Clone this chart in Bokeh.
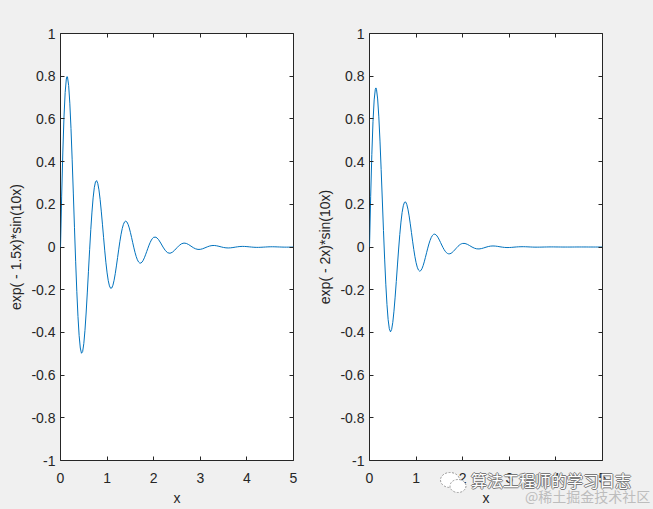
from bokeh.plotting import figure
from bokeh.models import LinearAxis, FixedTicker, Range1d, Div
from bokeh.layouts import row
from bokeh.embed import file_html
from bokeh.resources import INLINE

# ---- data ----
x_values = [
    0.000, 0.025, 0.050, 0.075, 0.100, 0.125, 0.1375, 0.150, 0.175, 0.200, 0.225,
    0.250, 0.275, 0.300, 0.325, 0.350, 0.375, 0.400, 0.425, 0.450, 0.475,
    0.500, 0.525, 0.550, 0.575, 0.600, 0.625, 0.650, 0.675, 0.700, 0.725,
    0.750, 0.775, 0.800, 0.825, 0.850, 0.875, 0.900, 0.925, 0.950, 0.975,
    1.000, 1.025, 1.050, 1.075, 1.100, 1.125, 1.150, 1.175, 1.200, 1.225,
    1.250, 1.275, 1.300, 1.325, 1.350, 1.375, 1.400, 1.425, 1.450, 1.475,
    1.500, 1.525, 1.550, 1.575, 1.600, 1.625, 1.650, 1.675, 1.700, 1.725,
    1.750, 1.775, 1.800, 1.825, 1.850, 1.875, 1.900, 1.925, 1.950, 1.975,
    2.000, 2.05, 2.10, 2.15, 2.20, 2.25, 2.30, 2.35, 2.40, 2.45, 2.50,
    2.55, 2.60, 2.65, 2.70, 2.75, 2.80, 2.85, 2.90, 2.95, 3.00,
    3.05, 3.10, 3.15, 3.20, 3.25, 3.30, 3.35, 3.40, 3.45, 3.50,
    3.55, 3.60, 3.65, 3.70, 3.75, 3.80, 3.85, 3.90, 3.95, 4.00,
    4.05, 4.10, 4.15, 4.20, 4.25, 4.30, 4.35, 4.40, 4.45, 4.50,
    4.55, 4.60, 4.65, 4.70, 4.75, 4.80, 4.85, 4.90, 4.95, 5.00,
]

y_left = [
    0.0, 0.2383, 0.4448, 0.6091, 0.7243, 0.7867, 0.7981, 0.7965, 0.7568, 0.6736, 0.5552,
    0.4113, 0.2527, 0.0900, -0.0665, -0.2075, -0.3257, -0.4153, -0.4731, -0.4977, -0.4901,
    -0.4530, -0.3908, -0.3092, -0.2153, -0.1136, -0.0130, 0.0811, 0.1635, 0.2299, 0.2774,
    0.3045, 0.3110, 0.2980, 0.2677, 0.2231, 0.1681, 0.1068, 0.0434, -0.0181, -0.0740,
    -0.1214, -0.1579, -0.1821, -0.1934, -0.1920, -0.1790, -0.1560, -0.1251, -0.0887, -0.0495,
    -0.0102, 0.0270, 0.0598, 0.0866, 0.1061, 0.1177, 0.1213, 0.1172, 0.1062, 0.0895,
    0.0685, 0.0449, 0.0202, -0.0040, -0.0261, -0.0451, -0.0599, -0.0700, -0.0751, -0.0752,
    -0.0707, -0.0622, -0.0505, -0.0365, -0.0214, -0.0060, 0.0087, 0.0217, 0.0325, 0.0405,
    0.0455, 0.0460, 0.0359, 0.0188, -0.0003, -0.0167, -0.0269, -0.0294, -0.0247, -0.0150, -0.0031,
    0.0078, 0.0154, 0.0184, 0.0167, 0.0113, 0.0041, -0.0031, -0.0086, -0.0113, -0.0110,
    -0.0082, -0.0039, 0.0007, 0.0045, 0.0067, 0.0071, 0.0057, 0.0032, 0.0003, -0.0022,
    -0.0039, -0.0045, -0.0039, -0.0025, -0.0007, 0.0010, 0.0022, 0.0028, 0.0026, 0.0018,
    0.0008, -0.0003, -0.0012, -0.0017, -0.0017, -0.0013, -0.0007, 0.0000, 0.0006, 0.0010,
    0.0011, 0.0009, 0.0005, 0.0001, -0.0003, -0.0006, -0.0007, -0.0006, -0.0004, -0.0001,
]

y_right = [
    0.0, 0.2353, 0.4338, 0.5867, 0.6889, 0.7391, 0.7451, 0.7390, 0.6934, 0.6095, 0.4961,
    0.3630, 0.2202, 0.0774, -0.0565, -0.1742, -0.2700, -0.3401, -0.3825, -0.3974, -0.3865,
    -0.3528, -0.3006, -0.2349, -0.1615, -0.0842, -0.0095, 0.0586, 0.1167, 0.1620, 0.1931,
    0.2093, 0.2111, 0.1998, 0.1772, 0.1459, 0.1086, 0.0681, 0.0273, -0.0113, -0.0455,
    -0.0736, -0.0946, -0.1077, -0.1130, -0.1108, -0.1020, -0.0878, -0.0695, -0.0487, -0.0268,
    -0.0054, 0.0143, 0.0312, 0.0446, 0.0540, 0.0592, 0.0602, 0.0575, 0.0514, 0.0428,
    0.0324, 0.0209, 0.0093, -0.0018, -0.0117, -0.0200, -0.0263, -0.0303, -0.0321, -0.0317,
    -0.0295, -0.0256, -0.0205, -0.0147, -0.0085, -0.0023, 0.0034, 0.0083, 0.0123, 0.0151,
    0.0167, 0.0165, 0.0125, 0.0064, -0.0001, -0.0054, -0.0085, -0.0091, -0.0075, -0.0044, -0.0009,
    0.0022, 0.0042, 0.0049, 0.0043, 0.0029, 0.0010, -0.0007, -0.0020, -0.0026, -0.0024,
    -0.0018, -0.0008, 0.0002, 0.0009, 0.0013, 0.0014, 0.0011, 0.0006, 0.0001, -0.0004,
    -0.0007, -0.0007, -0.0006, -0.0004, -0.0001, 0.0001, 0.0003, 0.0004, 0.0004, 0.0002,
    0.0001, 0.0000, -0.0002, -0.0002, -0.0002, -0.0002, -0.0001, 0.0000, 0.0001, 0.0001,
    0.0001, 0.0001, 0.0001, 0.0000, 0.0000, -0.0001, -0.0001, -0.0001, 0.0000, 0.0000,
]

x_ticks = [0, 1, 2, 3, 4, 5]
x_tick_labels = ["0", "1", "2", "3", "4", "5"]
y_ticks = [-1, -0.8, -0.6, -0.4, -0.2, 0, 0.2, 0.4, 0.6, 0.8, 1]
y_tick_labels = ["-1", "-0.8", "-0.6", "-0.4", "-0.2", "0", "0.2", "0.4", "0.6", "0.8", "1"]
x_label = "x"
y_label_left = "exp( - 1.5x)*sin(10x)"
y_label_right = "exp( - 2x)*sin(10x)"
watermark_title = "算法工程师的学习日志"
watermark_sub = "@稀土掘金技术社区"

# ---- style ----
BG = "#F0F0F0"
AX = "#262626"
LINE = "#0072BD"
FONT = "Liberation Sans"
FS = "14px"
CJK = "Noto Sans CJK SC"


def style_axis(ax, ticks, labels, standoff):
    ax.ticker = FixedTicker(ticks=ticks, minor_ticks=[])
    ax.major_label_overrides = dict(zip(ticks, labels))
    ax.major_tick_in = 4
    ax.major_tick_out = 0
    ax.major_tick_line_color = AX
    ax.minor_tick_line_color = None
    ax.axis_line_color = None
    ax.major_label_text_font = FONT
    ax.major_label_text_font_size = FS
    ax.major_label_text_color = AX
    ax.major_label_standoff = standoff
    ax.axis_label_text_font = FONT
    ax.axis_label_text_font_size = FS
    ax.axis_label_text_font_style = "normal"
    ax.axis_label_text_color = AX


def blank_axis(ticks):
    return LinearAxis(
        ticker=FixedTicker(ticks=ticks, minor_ticks=[]),
        major_label_overrides={t: "" for t in ticks},
        major_tick_in=4, major_tick_out=0, major_tick_line_color=AX,
        minor_tick_line_color=None, axis_line_color=None,
        major_label_text_font_size="1px", major_label_standoff=0,
    )


def make_panel(y, ylabel, width, left, right):
    p = figure(
        width=width, height=509,
        x_range=Range1d(0, 5), y_range=Range1d(-1, 1),
        output_backend="svg", toolbar_location=None,
        min_border_left=left, min_border_right=right,
        min_border_top=33, min_border_bottom=49,
        background_fill_color="white", border_fill_color=BG,
        outline_line_color=AX, outline_line_width=1,
    )
    p.grid.visible = False
    p.line(x_values, y, line_color=LINE, line_width=1)
    style_axis(p.xaxis[0], x_ticks, x_tick_labels, 12)
    style_axis(p.yaxis[0], y_ticks, y_tick_labels, 5)
    p.xaxis[0].axis_label = x_label
    p.xaxis[0].axis_label_standoff = 4
    p.yaxis[0].axis_label = ylabel
    p.yaxis[0].axis_label_standoff = 4
    p.add_layout(blank_axis(x_ticks), "above")
    p.add_layout(blank_axis(y_ticks), "right")
    return p


p1 = make_panel(y_left, y_label_left, 303, 60, 10)
p2 = make_panel(y_right, y_label_right, 350, 66, 51)

# watermark overlay (outside the plotting frames, so drawn as page text)
icon_svg = (
    '<svg width="30" height="26" style="position:absolute;left:434px;top:465px">'
    '<ellipse cx="11" cy="10" rx="9.5" ry="7.5" fill="white" stroke="#9A9A9A" '
    'stroke-width="1" stroke-dasharray="2 1.5"/>'
    '<ellipse cx="19" cy="16" rx="8" ry="6.5" fill="white" stroke="#9A9A9A" '
    'stroke-width="1" stroke-dasharray="2 1.5"/>'
    '</svg>'
)
title_html = (
    '<span style="position:absolute;left:466px;top:468px;display:inline-block;'
    'height:14px;white-space:nowrap;'
    f'font-family:\'{CJK}\';font-size:16px;line-height:14px;color:white;'
    'text-shadow:-1px 0 #7A7A7A,1px 0 #7A7A7A,0 -1px #7A7A7A,0 1px #7A7A7A;">'
    f'{watermark_title}</span>'
)
sub_html = (
    '<span style="position:absolute;left:520px;top:485px;display:inline-block;'
    'height:12px;white-space:nowrap;'
    f'font-family:\'{CJK}\';font-size:14px;line-height:12px;color:#BDBDBD;">'
    f'{watermark_sub}</span>'
)
watermark = Div(
    text=icon_svg + title_html + sub_html,
    styles={"position": "absolute", "left": "0px", "top": "0px",
            "width": "653px", "height": "509px", "pointer-events": "none"},
)

layout = row(p1, p2, watermark, styles={"background-color": BG, "position": "relative"})
open("out.html", "w").write(file_html(layout, INLINE))
